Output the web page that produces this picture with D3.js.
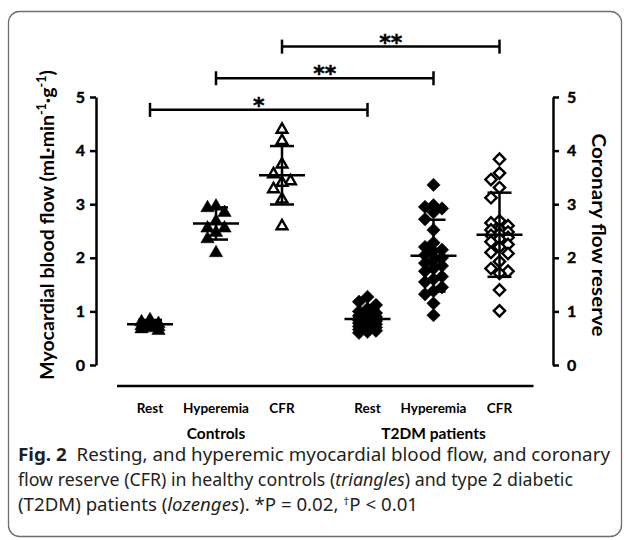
<!DOCTYPE html>
<html><head><meta charset="utf-8">
<script src="https://cdn.jsdelivr.net/npm/d3@7"></script>
<style>body{margin:0;background:#fff}</style>
</head><body>
<svg id="c" width="629" height="540"></svg>
<script>
// ---------- data ----------
const groups = ["Controls", "T2DM patients"];
const conditions = ["Rest", "Hyperemia", "CFR"];
const yTicks = [0, 1, 2, 3, 4, 5];
const controlsRest = [0.86, 0.82, 0.79, 0.77, 0.75, 0.73, 0.71, 0.69, 0.66];
const controlsHyper = [2.98, 2.95, 2.86, 2.70, 2.57, 2.57, 2.49, 2.37, 2.11];
const controlsCFR = [4.41, 4.20, 3.76, 3.58, 3.45, 3.42, 3.30, 3.11, 2.61];
const t2dmRest = [1.27, 1.18, 1.12, 1.05, 1.00, 0.97, 0.95, 0.92, 0.90, 0.88, 0.87, 0.85, 0.84,
                  0.83, 0.82, 0.80, 0.78, 0.76, 0.74, 0.72, 0.70, 0.68, 0.66, 0.64, 0.62, 0.60];
const t2dmHyper = [3.36, 2.98, 2.95, 2.92, 2.85, 2.72, 2.52, 2.28, 2.20, 2.15, 2.12, 2.05, 2.00,
                   1.95, 1.90, 1.85, 1.80, 1.75, 1.65, 1.60, 1.55, 1.45, 1.38, 1.32, 1.15, 0.93];
const t2dmCFR = [3.84, 3.58, 3.46, 3.31, 3.12, 2.69, 2.65, 2.60, 2.53, 2.52, 2.48, 2.45, 2.42,
                 2.38, 2.35, 2.30, 2.25, 2.20, 2.10, 2.08, 1.93, 1.80, 1.75, 1.71, 1.40, 1.01];
const means = [0.76, 2.64, 3.54, 0.86, 2.04, 2.43];
const sds = [0.08, 0.30, 0.545, 0.17, 0.67, 0.785];
const brackets = [
  {a: [0, 0], b: [1, 0], label: "*", level: 0},
  {a: [0, 1], b: [1, 1], label: "**", level: 1},
  {a: [0, 2], b: [1, 2], label: "**", level: 2}
];
const yTitleLeft = "Myocardial blood flow";
const yTitleRight = "Coronary flow reserve";

const series = [
  {g: 0, c: 0, values: controlsRest, shape: "tri", filled: true},
  {g: 0, c: 1, values: controlsHyper, shape: "tri", filled: true},
  {g: 0, c: 2, values: controlsCFR, shape: "tri", filled: false},
  {g: 1, c: 0, values: t2dmRest, shape: "dia", filled: true},
  {g: 1, c: 1, values: t2dmHyper, shape: "dia", filled: true},
  {g: 1, c: 2, values: t2dmCFR, shape: "dia", filled: false}
];

// ---------- scales ----------
const svg = d3.select("#c");
const y = d3.scaleLinear().domain([0, 5]).range([365, 97]);
const xg = d3.scalePoint().domain(groups).range([216, 433.5]);
const xc = d3.scalePoint().domain(conditions).range([-66, 66]);
const xPos = (g, c) => xg(groups[g]) + xc(conditions[c]);
const chartFont = "Lato, 'Open Sans', sans-serif";

// card
svg.append("rect").attr("x", 8.5).attr("y", 11.5).attr("width", 613).attr("height", 525)
  .attr("rx", 11).attr("fill", "none").attr("stroke", "#6d6e70").attr("stroke-width", 1.3);

// ---------- axes ----------
const axL = svg.append("g").attr("transform", "translate(96,0)")
  .call(d3.axisLeft(y).tickValues(yTicks).tickFormat(d3.format("d")).tickSize(6).tickSizeOuter(0).tickPadding(5));
const axR = svg.append("g").attr("transform", "translate(553,0)")
  .call(d3.axisRight(y).tickValues(yTicks).tickFormat(d3.format("d")).tickSize(6).tickSizeOuter(0).tickPadding(8));
[axL, axR].forEach(ax => {
  ax.attr("font-family", chartFont).attr("font-size", 16).attr("font-weight", "bold");
  ax.select(".domain").attr("stroke", "#000").attr("stroke-width", 2.5);
  ax.selectAll(".tick line").attr("stroke", "#000").attr("stroke-width", 2.5);
  ax.selectAll(".tick text").attr("font-weight", "bold").attr("stroke", "#000")
    .attr("stroke-width", 0.4).attr("fill", "#000");
});

// x baseline
const xmin = xPos(0, 0) - 33, xmax = xPos(1, 2) + 34;
svg.append("line").attr("x1", xmin).attr("x2", xmax).attr("y1", 386).attr("y2", 386)
  .attr("stroke", "#000").attr("stroke-width", 2.5);

// category labels
series.forEach(s => {
  svg.append("text").attr("x", xPos(s.g, s.c)).attr("y", 413).attr("text-anchor", "middle")
    .attr("font-family", chartFont).attr("font-weight", 700).attr("font-size", 13.5)
    .text(conditions[s.c]);
});
groups.forEach(g => {
  svg.append("text").attr("x", xg(g)).attr("y", 439).attr("text-anchor", "middle")
    .attr("font-family", chartFont).attr("font-weight", 700).attr("font-size", 15.5).text(g);
});

// axis titles
const lt = svg.append("text").attr("transform", "translate(54,225) rotate(-90)")
  .attr("text-anchor", "middle").attr("font-family", chartFont).attr("font-weight", 700)
  .attr("font-size", 19.5);
lt.append("tspan").text(yTitleLeft + " (mL·min");
lt.append("tspan").attr("dy", -8).attr("font-size", 12.5).text("-1");
lt.append("tspan").attr("dy", 8).text("·g");
lt.append("tspan").attr("dy", -8).attr("font-size", 12.5).text("-1");
lt.append("tspan").attr("dy", 8).text(")");
svg.append("text").attr("transform", "translate(592,235) rotate(90)")
  .attr("text-anchor", "middle").attr("font-family", chartFont).attr("font-weight", 700)
  .attr("font-size", 18.5).attr("textLength", 203).attr("lengthAdjust", "spacingAndGlyphs")
  .text(yTitleRight);

// ---------- points ----------
function dodge(values, step, minD) {
  const placed = [], offs = new Array(values.length);
  const order = values.map((v, i) => i).sort((a, b) => values[b] - values[a]);
  const cands = [0, -1, 1];
  for (const i of order) {
    const py = y(values[i]);
    let best = 0, bestD = -1;
    for (const c of cands) {
      let dmin = Infinity;
      for (const p of placed) dmin = Math.min(dmin, Math.hypot((p.c - c) * step, p.py - py));
      if (dmin >= minD) { best = c; bestD = Infinity; break; }
      if (dmin > bestD) { bestD = dmin; best = c; }
    }
    placed.push({c: best, py}); offs[i] = best * step;
  }
  return offs;
}
const triF = d3.symbol().type(d3.symbolTriangle).size(78);
const triO = d3.symbol().type(d3.symbolTriangle).size(50);
const diaF = d3.symbol().type(d3.symbolSquare).size(90);
const diaO = d3.symbol().type(d3.symbolSquare).size(64);

series.forEach(s => {
  const cx = xPos(s.g, s.c);
  const offs = dodge(s.values, 8.5, 11);
  const path = s.shape === "tri" ? (s.filled ? triF : triO) : (s.filled ? diaF : diaO);
  const rot = s.shape === "dia" ? 45 : 0;
  svg.append("g").selectAll("path").data(s.values).join("path")
    .attr("d", path)
    .attr("transform", (d, i) => `translate(${cx + offs[i]},${y(d) + (s.shape === "tri" ? 1 : 0)}) rotate(${rot})`)
    .attr("fill", s.filled ? "#000" : "#fff")
    .attr("stroke", "#000").attr("stroke-width", s.filled ? 0.5 : 2.4)
    .attr("stroke-linejoin", "miter");
});

// mean ± SD
series.forEach((s, k) => {
  const cx = xPos(s.g, s.c), m = means[k], sd = sds[k];
  const g = svg.append("g").attr("stroke", "#000").attr("stroke-width", 2.5);
  g.append("line").attr("x1", cx).attr("x2", cx).attr("y1", y(m + sd)).attr("y2", y(m - sd));
  g.append("line").attr("x1", cx - 12).attr("x2", cx + 12).attr("y1", y(m + sd)).attr("y2", y(m + sd));
  g.append("line").attr("x1", cx - 12).attr("x2", cx + 12).attr("y1", y(m - sd)).attr("y2", y(m - sd));
  g.append("line").attr("x1", cx - 23).attr("x2", cx + 23).attr("y1", y(m)).attr("y2", y(m));
});

// significance brackets
brackets.forEach(b => {
  const x1 = xPos(b.a[0], b.a[1]), x2 = xPos(b.b[0], b.b[1]);
  const yy = y(4.76 + b.level * 0.59);
  const g = svg.append("g").attr("stroke", "#000").attr("stroke-width", 2.5);
  g.append("line").attr("x1", x1).attr("x2", x2).attr("y1", yy).attr("y2", yy);
  g.append("line").attr("x1", x1).attr("x2", x1).attr("y1", yy - 7).attr("y2", yy + 7);
  g.append("line").attr("x1", x2).attr("x2", x2).attr("y1", yy - 7).attr("y2", yy + 7);
  svg.append("text").attr("x", (x1 + x2) / 2).attr("y", yy + 3).attr("text-anchor", "middle")
    .attr("font-family", "'DejaVu Sans', sans-serif").attr("font-weight", 700).attr("font-size", 22)
    .attr("stroke", "#000").attr("stroke-width", 0.5).text(b.label);
});

// ---------- caption ----------
const capFont = "'Noto Sans', 'Open Sans', sans-serif";
const cap = svg.append("g").attr("font-family", capFont).attr("font-size", 17.5).attr("fill", "#231f20");
const l1 = cap.append("text").attr("x", 18).attr("y", 461).attr("textLength", 592).attr("lengthAdjust", "spacingAndGlyphs");
l1.append("tspan").attr("font-weight", 700).text("Fig. 2");
l1.append("tspan").text("\u00a0 Resting, and hyperemic myocardial blood flow, and coronary");
const l2 = cap.append("text").attr("x", 18).attr("y", 486).attr("textLength", 555).attr("lengthAdjust", "spacingAndGlyphs");
l2.append("tspan").text("flow reserve (CFR) in healthy controls (");
l2.append("tspan").attr("font-style", "italic").text("triangles");
l2.append("tspan").text(") and type 2 diabetic");
const l3 = cap.append("text").attr("x", 18).attr("y", 511).attr("textLength", 400).attr("lengthAdjust", "spacingAndGlyphs");
l3.append("tspan").text("(T2DM) patients (");
l3.append("tspan").attr("font-style", "italic").text("lozenges");
l3.append("tspan").text("). *P = 0.02, ");
l3.append("tspan").attr("dy", -6).attr("font-size", 11).text("†");
l3.append("tspan").attr("dy", 6).text("P < 0.01");
</script>
</body></html>
